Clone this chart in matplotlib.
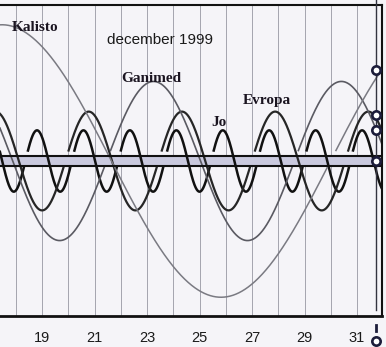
import numpy as np
import matplotlib
matplotlib.use("Agg")
import matplotlib.pyplot as plt

# ---- data ----
moons = ["Jo", "Evropa", "Ganimed", "Kalisto"]
periods = [1.769, 3.551, 7.155, 16.69]          # days
amplitudes = [5.9, 9.5, 15.3, 26.2]             # Jupiter radii (max elongation)
t_top = [18.81, 20.78, 23.25, 17.475]           # day of an upper elongation
days = list(range(18, 32))
tick_days = [19, 21, 23, 25, 27, 29, 31]
tick_labels = ["19", "21", "23", "25", "27", "29", "31"]
title_text = "december 1999"
label_pos = {"Kalisto": (17.857, 25.58), "Ganimed": (22.01, 15.77),
             "Jo": (25.44, 7.31), "Evropa": (26.657, 11.73)}
marker_day = 31.72
marker_y = [17.5, 8.85, 5.96, 0.0, -34.6]
jupiter_half = 1.05
hidden_top = 2.0     # moon hidden (behind planet / in shadow) up to here when ascending

# ---- styles ----
colors = ["#111111", "#262626", "#5a5a62", "#7a7a82"]
widths = [1.8, 1.6, 1.2, 1.1]
bg = "#f5f4f8"

W, H, DPI = 386, 347, 100
fig = plt.figure(figsize=(W / DPI, H / DPI), dpi=DPI, facecolor=bg)
ax = fig.add_axes([0 / W, (H - 316) / H, 382 / W, 311 / H])
ax.set_facecolor(bg)
x0 = 19 - 42 / 26.25
ax.set_xlim(x0, x0 + 382 / 26.25)
ax.set_ylim(-155 / 5.2, 156 / 5.2)

# grid lines per day
for d in days:
    ax.axvline(d, color="#a4a4ae", lw=0.7, zorder=0)

# Jupiter band
ax.axhspan(-jupiter_half, jupiter_half, facecolor="#c9c9de", edgecolor="none", zorder=1)

t = np.linspace(x0 - 1, x0 + 16, 6000)
for name, P, A, t0, c, w in zip(moons, periods, amplitudes, t_top, colors, widths):
    ph = 2 * np.pi * (t - t0) / P
    y = A * np.cos(ph)
    rising = -np.sin(ph) > 0
    hide = rising & (y > -jupiter_half) & (y < hidden_top)
    y = np.where(hide, np.nan, y)
    ax.plot(t, y, color=c, lw=w, zorder=2)

ax.axhline(jupiter_half, color="#111111", lw=1.5, zorder=3)
ax.axhline(-jupiter_half, color="#111111", lw=1.5, zorder=3)

# labels
for name, (lx, ly) in label_pos.items():
    ax.text(lx, ly, name, family="Liberation Serif", weight="bold", fontsize=11,
            color="#1a1420", ha="left", va="center", zorder=5)
ax.text(21.476, 23.27, title_text, family="Liberation Sans", fontsize=11,
        color="#1a1a1a", ha="left", va="center", zorder=5)

# spines / ticks
ax.spines["left"].set_visible(False)
for s in ["top", "right"]:
    ax.spines[s].set_linewidth(1.5)
    ax.spines[s].set_color("#111111")
ax.spines["bottom"].set_linewidth(2.0)
ax.spines["bottom"].set_color("#111111")
ax.set_xticks(tick_days)
ax.set_xticklabels(tick_labels, family="Liberation Sans", fontsize=10.5, color="#1a1a1a")
ax.tick_params(axis="x", length=0, pad=11)
ax.set_yticks([])

# right-hand marker line with circles
ax.plot([marker_day, marker_day], [31.0, -28.65], color="#333340", lw=1.0,
        clip_on=False, zorder=4)
ax.plot([marker_day, marker_day], [-31.5, -32.7], color="#1c1c3a", lw=2.0,
        clip_on=False, zorder=4)
ax.plot([marker_day] * len(marker_y), marker_y, "o", ms=6, mfc="white",
        mec="#1c1c3a", mew=1.9, ls="none", clip_on=False, zorder=6)

fig.savefig("out.png", dpi=DPI, facecolor=bg)
